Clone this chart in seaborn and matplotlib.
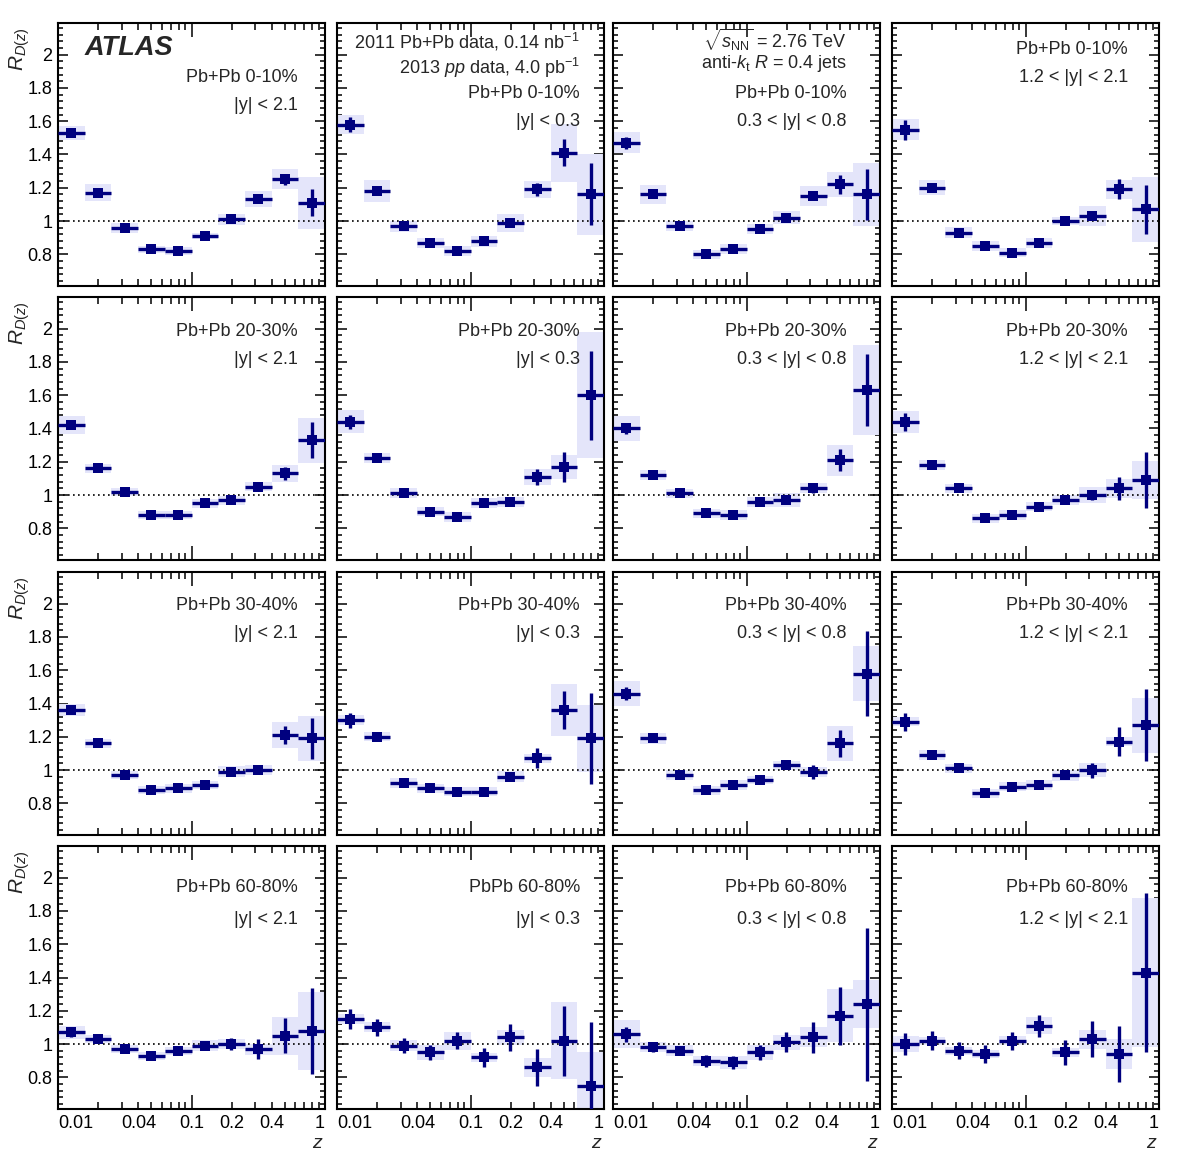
import numpy as np
import pandas as pd
import matplotlib
matplotlib.use("Agg")
import matplotlib.pyplot as plt
import seaborn as sns
from matplotlib.ticker import FixedLocator, FixedFormatter

# --- Data ---
z_edges = [0.01, 0.0158, 0.0251, 0.0398, 0.0631, 0.1, 0.158, 0.251, 0.398, 0.631, 1.0]

centralities = ['Pb+Pb 0-10%', 'Pb+Pb 20-30%', 'Pb+Pb 30-40%', 'Pb+Pb 60-80%']
rapidities = ['|y| < 2.1', '|y| < 0.3', '0.3 < |y| < 0.8', '1.2 < |y| < 2.1']

# values, statistical and systematic uncertainties, one list per rapidity bin
val_0_10 = [
    [1.53, 1.17, 0.96, 0.83, 0.82, 0.91, 1.01, 1.13, 1.25, 1.11],
    [1.58, 1.18, 0.97, 0.87, 0.82, 0.88, 0.99, 1.19, 1.41, 1.16],
    [1.47, 1.16, 0.97, 0.80, 0.83, 0.95, 1.02, 1.15, 1.22, 1.16],
    [1.55, 1.20, 0.93, 0.85, 0.81, 0.87, 1.00, 1.03, 1.19, 1.07],
]
stat_0_10 = [
    [0.01, 0.01, 0.01, 0.01, 0.01, 0.01, 0.01, 0.015, 0.033, 0.082],
    [0.045, 0.01, 0.01, 0.01, 0.01, 0.01, 0.015, 0.04, 0.082, 0.186],
    [0.037, 0.01, 0.01, 0.01, 0.01, 0.01, 0.01, 0.02, 0.058, 0.154],
    [0.06, 0.01, 0.01, 0.01, 0.01, 0.01, 0.01, 0.015, 0.06, 0.147],
]
sys_0_10 = [
    [0.04, 0.05, 0.03, 0.022, 0.022, 0.02, 0.032, 0.048, 0.06, 0.157],
    [0.055, 0.067, 0.033, 0.03, 0.032, 0.033, 0.055, 0.052, 0.175, 0.245],
    [0.063, 0.057, 0.03, 0.028, 0.03, 0.03, 0.04, 0.06, 0.075, 0.19],
    [0.065, 0.045, 0.033, 0.028, 0.028, 0.03, 0.025, 0.06, 0.055, 0.196],
]

val_20_30 = [
    [1.42, 1.16, 1.02, 0.88, 0.88, 0.95, 0.97, 1.05, 1.13, 1.33],
    [1.44, 1.22, 1.01, 0.90, 0.87, 0.95, 0.96, 1.11, 1.17, 1.60],
    [1.40, 1.12, 1.01, 0.89, 0.88, 0.96, 0.97, 1.04, 1.21, 1.63],
    [1.44, 1.18, 1.04, 0.86, 0.88, 0.93, 0.97, 1.00, 1.04, 1.09],
]
stat_20_30 = [
    [0.015, 0.01, 0.01, 0.01, 0.01, 0.01, 0.01, 0.01, 0.037, 0.11],
    [0.041, 0.02, 0.01, 0.01, 0.01, 0.01, 0.01, 0.048, 0.09, 0.268],
    [0.033, 0.01, 0.01, 0.01, 0.01, 0.01, 0.01, 0.03, 0.067, 0.217],
    [0.053, 0.015, 0.01, 0.01, 0.01, 0.01, 0.015, 0.03, 0.067, 0.17],
]
sys_20_30 = [
    [0.054, 0.025, 0.023, 0.025, 0.025, 0.028, 0.027, 0.026, 0.052, 0.135],
    [0.07, 0.03, 0.03, 0.028, 0.03, 0.03, 0.03, 0.047, 0.073, 0.38],
    [0.074, 0.03, 0.027, 0.027, 0.03, 0.03, 0.042, 0.03, 0.093, 0.27],
    [0.067, 0.03, 0.027, 0.028, 0.03, 0.028, 0.028, 0.05, 0.057, 0.115],
]

val_30_40 = [
    [1.36, 1.16, 0.97, 0.88, 0.89, 0.91, 0.99, 1.00, 1.21, 1.19],
    [1.30, 1.20, 0.92, 0.89, 0.87, 0.87, 0.96, 1.07, 1.36, 1.19],
    [1.46, 1.19, 0.97, 0.88, 0.91, 0.94, 1.03, 0.99, 1.16, 1.58],
    [1.29, 1.09, 1.01, 0.86, 0.90, 0.91, 0.97, 1.00, 1.17, 1.27],
]
stat_30_40 = [
    [0.02, 0.01, 0.01, 0.01, 0.01, 0.01, 0.01, 0.01, 0.053, 0.125],
    [0.045, 0.01, 0.01, 0.01, 0.01, 0.01, 0.015, 0.06, 0.113, 0.273],
    [0.038, 0.01, 0.01, 0.01, 0.01, 0.01, 0.015, 0.042, 0.082, 0.255],
    [0.053, 0.01, 0.01, 0.01, 0.01, 0.01, 0.015, 0.045, 0.086, 0.215],
]
sys_30_40 = [
    [0.038, 0.026, 0.025, 0.025, 0.025, 0.025, 0.032, 0.03, 0.078, 0.136],
    [0.031, 0.027, 0.03, 0.028, 0.027, 0.027, 0.033, 0.027, 0.158, 0.2],
    [0.078, 0.032, 0.028, 0.027, 0.028, 0.026, 0.027, 0.029, 0.107, 0.163],
    [0.028, 0.032, 0.027, 0.027, 0.028, 0.028, 0.033, 0.043, 0.027, 0.165],
]

val_60_80 = [
    [1.07, 1.03, 0.97, 0.93, 0.96, 0.99, 1.00, 0.97, 1.05, 1.08],
    [1.15, 1.10, 0.99, 0.95, 1.02, 0.92, 1.04, 0.86, 1.02, 0.75],
    [1.06, 0.98, 0.96, 0.90, 0.89, 0.95, 1.01, 1.04, 1.17, 1.24],
    [1.00, 1.02, 0.96, 0.94, 1.02, 1.11, 0.95, 1.03, 0.94, 1.43],
]
stat_60_80 = [
    [0.03, 0.015, 0.015, 0.015, 0.015, 0.02, 0.037, 0.06, 0.105, 0.258],
    [0.062, 0.05, 0.046, 0.043, 0.052, 0.058, 0.083, 0.11, 0.21, 0.38],
    [0.045, 0.025, 0.025, 0.035, 0.038, 0.046, 0.06, 0.095, 0.173, 0.46],
    [0.068, 0.056, 0.05, 0.053, 0.055, 0.067, 0.077, 0.108, 0.17, 0.475],
]
sys_60_80 = [
    [0.038, 0.024, 0.025, 0.025, 0.025, 0.033, 0.028, 0.033, 0.115, 0.235],
    [0.03, 0.03, 0.034, 0.043, 0.055, 0.027, 0.044, 0.057, 0.23, 0.2],
    [0.085, 0.03, 0.032, 0.03, 0.038, 0.043, 0.047, 0.06, 0.16, 0.143],
    [0.046, 0.025, 0.025, 0.025, 0.026, 0.05, 0.025, 0.057, 0.09, 0.45],
]

vals = [val_0_10, val_20_30, val_30_40, val_60_80]
stats = [stat_0_10, stat_20_30, stat_30_40, stat_60_80]
systs = [sys_0_10, sys_20_30, sys_30_40, sys_60_80]

x_major = [0.01, 0.1, 1.0]
x_major_labels = ['0.01', '0.1', '1']
x_minor = [0.02, 0.03, 0.04, 0.05, 0.06, 0.07, 0.08, 0.09,
           0.2, 0.3, 0.4, 0.5, 0.6, 0.7, 0.8, 0.9]
x_minor_labels = ['', '', '0.04', '', '', '', '', '',
                  '0.2', '', '0.4', '', '', '', '', '']
y_major = [0.8, 1.0, 1.2, 1.4, 1.6, 1.8, 2.0]

# --- Style ---
sns.set_theme(style='ticks')
plt.rcParams['font.family'] = ['Liberation Sans', 'DejaVu Sans']
plt.rcParams['mathtext.fontset'] = 'custom'
plt.rcParams['mathtext.rm'] = 'Liberation Sans'
plt.rcParams['mathtext.it'] = 'Liberation Sans:italic'
plt.rcParams['mathtext.bf'] = 'Liberation Sans:bold'

navy = '#00007f'
box_color = '#e4e5fa'

W, H = 1182, 1169
fig = plt.figure(figsize=(W / 100, H / 100), dpi=100)

col_left = [58, 337, 613, 892]
row_top = [23, 297, 572, 846]
pw, ph = 267, 263
text_right = [240, 243, 234, 236]  # px from panel left

edges = np.array(z_edges)
lo, hi = edges[:-1], edges[1:]
zc = np.sqrt(lo * hi)

for r in range(4):
    for c in range(4):
        ax = fig.add_axes([col_left[c] / W, 1 - (row_top[r] + ph) / H, pw / W, ph / H])
        v = np.array(vals[r][c])
        st = np.array(stats[r][c])
        sy = np.array(systs[r][c])

        # systematic boxes
        ax.bar(lo, 2 * sy, width=hi - lo, bottom=v - sy, align='edge',
               color=box_color, edgecolor='none', zorder=1)
        # reference line
        ax.axhline(1.0, color='black', ls=(0, (1, 2)), lw=1.2, zorder=2)
        # statistical errors + bin widths
        ax.errorbar(zc, v, yerr=st, xerr=[zc - lo, hi - zc], fmt='none',
                    ecolor=navy, elinewidth=2.4, capsize=0, zorder=3)
        df = pd.DataFrame({'z': zc, 'R': v})
        sns.scatterplot(data=df, x='z', y='R', marker='s', s=60, color=navy,
                        edgecolor=navy, linewidth=0, zorder=4, ax=ax, legend=False)

        ax.set_xscale('log')
        ax.set_xlim(0.01, 1.0)
        ax.set_ylim(0.61, 2.19)
        ax.set_xlabel('')
        ax.set_ylabel('')

        ax.xaxis.set_major_locator(FixedLocator(x_major))
        ax.xaxis.set_major_formatter(FixedFormatter(x_major_labels))
        ax.xaxis.set_minor_locator(FixedLocator(x_minor))
        ax.xaxis.set_minor_formatter(FixedFormatter(x_minor_labels))
        ax.yaxis.set_major_locator(FixedLocator(y_major))
        ax.yaxis.set_major_formatter(FixedFormatter([f'{t:g}' for t in y_major]))
        ax.yaxis.set_minor_locator(FixedLocator(np.arange(0.64, 2.19, 0.04)))

        ax.tick_params(which='both', direction='in', top=True, right=True,
                       width=1.1, colors='black', labelsize=13, pad=4)
        ax.tick_params(axis='y', which='major', length=7.5)
        ax.tick_params(axis='y', which='minor', length=3.8)
        ax.tick_params(axis='x', which='major', length=10)
        ax.tick_params(axis='x', which='minor', length=5)
        for sp in ax.spines.values():
            sp.set_linewidth(1.5)
            sp.set_color('black')

        if r < 3:
            ax.tick_params(axis='x', which='both', labelbottom=False)
        else:
            ticks = ax.xaxis.get_major_ticks()
            ticks[0].label1.set_horizontalalignment('left')
            ticks[-1].label1.set_horizontalalignment('right')
            ax.text(0.99, -0.13, 'z', style='italic', fontsize=14,
                    ha='right', va='center', transform=ax.transAxes)
        if c > 0:
            ax.tick_params(axis='y', which='both', labelleft=False)
        else:
            ax.text(-0.145, 0.985, r'$R_{D(z)}$', rotation=90, fontsize=15,
                    ha='center', va='top', transform=ax.transAxes)

        xr = text_right[c] / pw
        cent = centralities[r]
        if r == 3 and c == 1:
            cent = 'PbPb 60-80%'
        if r == 0:
            if c == 0:
                offs = [55, 82]
                lines = [cent, rapidities[c]]
            elif c == 1:
                offs = [19, 45, 70, 99]
                lines = [r'2011 Pb+Pb data, 0.14 nb$^{-1}$',
                         r'2013 $pp$ data, 4.0 pb$^{-1}$', cent, rapidities[c]]
            elif c == 2:
                offs = [17, 41, 70, 99]
                lines = [r'$\sqrt{s_{\mathrm{NN}}}$ = 2.76 TeV',
                         r'anti-$k_{\mathrm{t}}$ $R$ = 0.4 jets', cent, rapidities[c]]
            else:
                offs = [27, 55]
                lines = [cent, rapidities[c]]
        elif r == 1:
            offs = [35, 62]
            lines = [cent, rapidities[c]]
        elif r == 2:
            offs = [34, 61]
            lines = [cent, rapidities[c]]
        else:
            offs = [41, 73]
            lines = [cent, rapidities[c]]
        for o, s in zip(offs, lines):
            ax.text(xr, 1 - o / ph, s, ha='right', va='center', fontsize=13,
                    transform=ax.transAxes)

        if r == 0 and c == 0:
            ax.text(0.10, 1 - 25 / ph, 'ATLAS', fontsize=19.5, weight='bold',
                    style='italic', ha='left', va='center', transform=ax.transAxes)

fig.savefig('out.png', dpi=100, facecolor='white')
